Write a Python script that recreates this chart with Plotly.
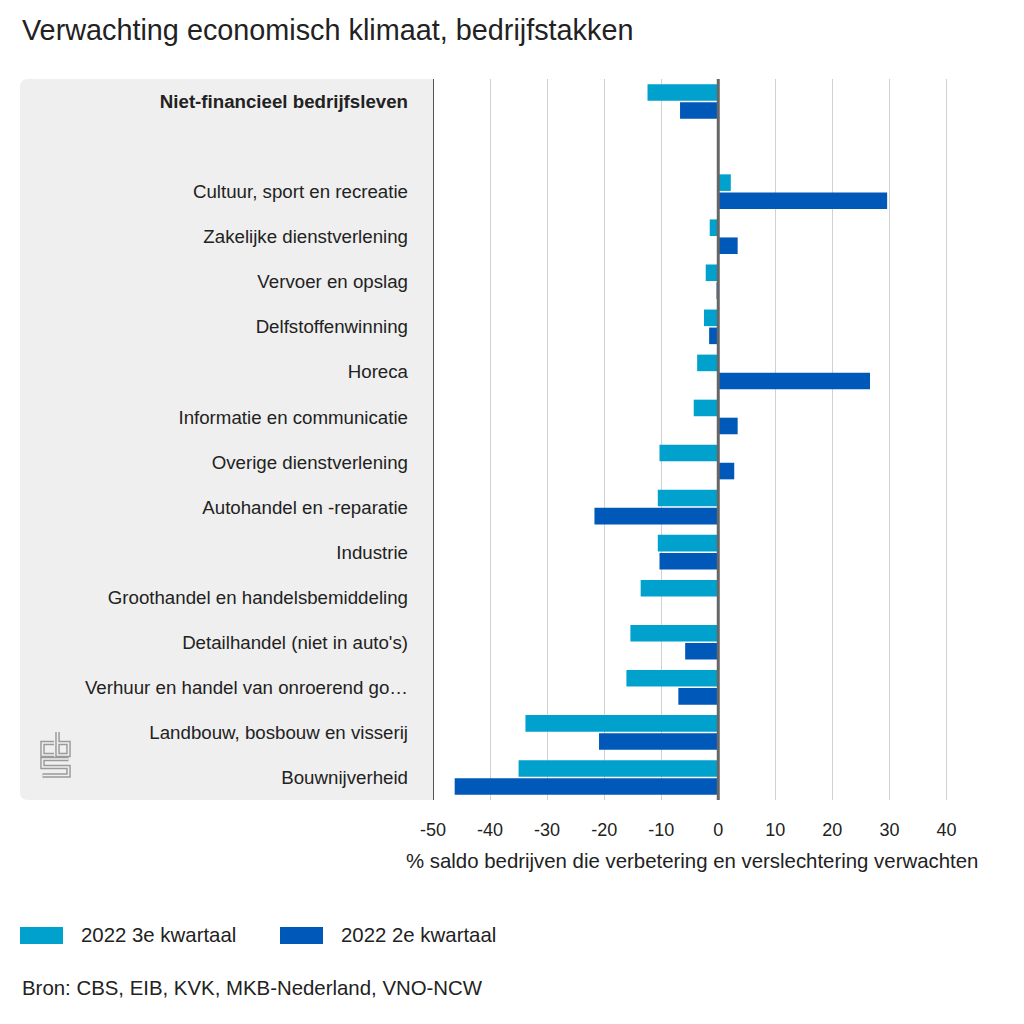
import plotly.graph_objects as go

# ---- data ----
categories = [
    "Niet-financieel bedrijfsleven",
    "",
    "Cultuur, sport en recreatie",
    "Zakelijke dienstverlening",
    "Vervoer en opslag",
    "Delfstoffenwinning",
    "Horeca",
    "Informatie en communicatie",
    "Overige dienstverlening",
    "Autohandel en -reparatie",
    "Industrie",
    "Groothandel en handelsbemiddeling",
    "Detailhandel (niet in auto's)",
    "Verhuur en handel van onroerend go…",
    "Landbouw, bosbouw en visserij",
    "Bouwnijverheid",
]
q3_2022 = [-12.4, None, 2.2, -1.5, -2.2, -2.5, -3.7, -4.3, -10.3, -10.6, -10.6, -13.6, -15.4, -16.1, -33.8, -35.0]
q2_2022 = [-6.7, None, 29.6, 3.4, -0.3, -1.6, 26.6, 3.4, 2.8, -21.7, -10.3, 0.0, -5.8, -7.0, -20.9, -46.2]
x_ticks = [-50, -40, -30, -20, -10, 0, 10, 20, 30, 40]
series_names = ["2022 3e kwartaal", "2022 2e kwartaal"]
series_colors = ["#00a1cd", "#0058b8"]

FONT = "Liberation Sans, Arial, sans-serif"
W, H = 1024, 1024
L, R, T, B = 433, 975, 79, 800  # plot area in px


def px(x):
    return (x - L) / (R - L)


def py(y):
    return (B - y) / (B - T)


positions = list(range(len(categories)))
ticktext = ["<b>%s</b>" % c if i == 0 else c for i, c in enumerate(categories)]

fig = go.Figure()
for name, vals, col in zip(series_names, [q3_2022, q2_2022], series_colors):
    fig.add_trace(go.Bar(
        x=vals, y=positions, orientation="h", name=name,
        marker=dict(color=col, line=dict(width=0)),
        showlegend=False, hoverinfo="x+name",
    ))

shapes = []
# grey label panel with rounded left corners
r = 8
x0, x1, y0, y1 = 20, L, T, B
path = (f"M {px(x1)},{py(y0)} L {px(x0 + r)},{py(y0)} "
        f"Q {px(x0)},{py(y0)} {px(x0)},{py(y0 + r)} "
        f"L {px(x0)},{py(y1 - r)} Q {px(x0)},{py(y1)} {px(x0 + r)},{py(y1)} "
        f"L {px(x1)},{py(y1)} Z")
shapes.append(dict(type="path", path=path, xref="paper", yref="paper",
                   fillcolor="#efefef", line=dict(width=0), layer="below"))
# left axis line at -50
shapes.append(dict(type="line", xref="x", yref="paper", x0=-50, x1=-50, y0=0, y1=1,
                   line=dict(color="#555555", width=2)))
# zero line
shapes.append(dict(type="line", xref="x", yref="paper", x0=0, x1=0, y0=0, y1=1,
                   line=dict(color="#666666", width=3)))

# cbs logo (simplified, double-lined look)
logo_paths = [
    [(54, 743), (42.5, 743), (42.5, 755), (54, 755)],
    [(57.5, 732), (57.5, 755), (68.5, 755), (68.5, 743), (57.5, 743)],
    [(68.5, 759), (42.5, 759), (42.5, 767), (68.5, 767), (68.5, 775.5), (42.5, 775.5)],
]
for pts in logo_paths:
    d = "M " + " L ".join(f"{px(a)},{py(b)}" for a, b in pts)
    shapes.append(dict(type="path", path=d, xref="paper", yref="paper",
                       line=dict(color="#9a9a9a", width=4.5)))
    shapes.append(dict(type="path", path=d, xref="paper", yref="paper",
                       line=dict(color="#efefef", width=1.6)))

# legend swatches
legend_x = [20, 280]
for lx, col in zip(legend_x, series_colors):
    shapes.append(dict(type="rect", xref="paper", yref="paper",
                       x0=px(lx), x1=px(lx + 43), y0=py(927), y1=py(944),
                       fillcolor=col, line=dict(width=0)))

annotations = []
for lx, name in zip(legend_x, series_names):
    annotations.append(dict(text=name, xref="paper", yref="paper", x=px(lx + 59), y=py(935.5),
                            xanchor="left", yanchor="middle", showarrow=False,
                            font=dict(family=FONT, size=20.4, color="#222222")))
annotations.append(dict(text="Bron: CBS, EIB, KVK, MKB-Nederland, VNO-NCW", xref="paper", yref="paper",
                        x=px(20), y=py(988), xanchor="left", yanchor="middle", showarrow=False,
                        font=dict(family=FONT, size=20.4, color="#222222")))
annotations.append(dict(text="% saldo bedrijven die verbetering en verslechtering verwachten",
                        xref="paper", yref="paper", x=px(692), y=py(861), xanchor="center",
                        yanchor="middle", showarrow=False,
                        font=dict(family=FONT, size=20.4, color="#222222")))
annotations.append(dict(text="Verwachting economisch klimaat, bedrijfstakken", xref="paper", yref="paper",
                        x=px(20), y=py(30), xanchor="left", yanchor="middle", showarrow=False,
                        font=dict(family=FONT, size=28.8, color="#222222")))

fig.update_layout(
    width=W, height=H,
    margin=dict(l=L, r=W - R, t=T, b=H - B, pad=0),
    paper_bgcolor="white", plot_bgcolor="white",
    barmode="group", bargap=0.2, bargroupgap=0.08,
    font=dict(family=FONT, size=18, color="#222222"),
    shapes=shapes, annotations=annotations,
    xaxis=dict(range=[-50, 45], tickvals=x_ticks, ticktext=[str(v) for v in x_ticks],
               showgrid=True, gridcolor="#d0d0d0", gridwidth=1, zeroline=False,
               showline=False, ticks="", ticklabelstandoff=17,
               tickfont=dict(family=FONT, size=18, color="#222222"), fixedrange=True),
    yaxis=dict(range=[len(categories) - 0.5, -0.5], tickvals=positions, ticktext=ticktext,
               showgrid=False, zeroline=False, showline=False, ticks="",
               ticklabelstandoff=24,
               tickfont=dict(family=FONT, size=18.7, color="#222222"), fixedrange=True),
)

fig.write_html("out.html")
